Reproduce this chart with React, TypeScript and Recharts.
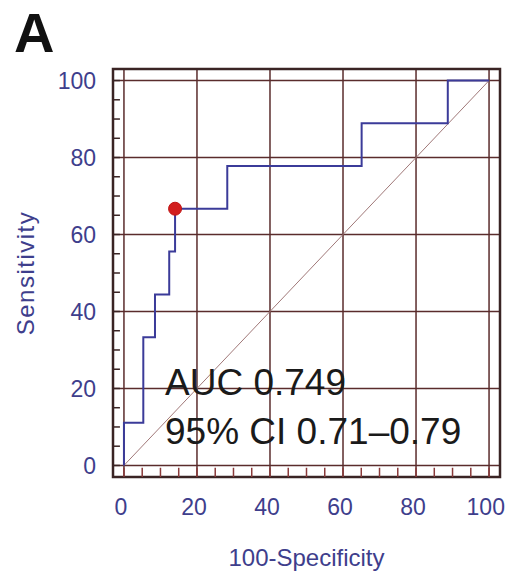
import { LineChart, Line, XAxis, YAxis, CartesianGrid, ReferenceArea, ReferenceLine, ReferenceDot, Label } from 'recharts';

// ROC curve corners (100-specificity, sensitivity), drawn with stepBefore
const fpr = [0, 5.3, 8.5, 12.4, 14.0, 28.3, 65.1, 88.7, 100];
const tpr = [0, 11.1, 33.3, 44.4, 55.6, 66.7, 77.8, 88.9, 100];

const diagX = [0, 100];
const diagY = [0, 100];

// optimal cut-off point
const cutX = 14.0;
const cutY = 66.7;

const majorTicks = [0, 20, 40, 60, 80, 100];
const minorTicks = [0, 5, 10, 15, 20, 25, 30, 35, 40, 45, 50, 55, 60, 65, 70, 75, 80, 85, 90, 95, 100];

const aucText = 'AUC 0.749';
const ciText = '95% CI 0.71–0.79';

const rocData = fpr.map((x, i) => ({ x, y: tpr[i] }));
const diagData = diagX.map((x, i) => ({ x, y: diagY[i] }));

const FONT = '"Liberation Sans", Arial, sans-serif';
const TICK_COLOR = '#3e3e8c';
const GRID_COLOR = '#5a2c2c';
const FRAME_COLOR = '#3a2424';
const LO = -3;
const HI = 103;

export default function App() {
  return (
    <div style={{ position: 'absolute', left: 0, top: 0, width: 506, height: 572, background: '#fff', fontFamily: FONT }}>
      <div style={{ position: 'absolute', left: 14, top: 0, fontSize: 56, fontWeight: 'bold', lineHeight: '66px', color: '#111' }}>A</div>
      <LineChart width={506} height={572} margin={{ top: 69, right: 6, bottom: 0, left: 0 }}>
        <CartesianGrid stroke={GRID_COLOR} strokeWidth={1.5} />
        <XAxis
          dataKey="x"
          type="number"
          domain={[LO, HI]}
          ticks={majorTicks}
          allowDataOverflow
          axisLine={false}
          tickLine={false}
          tickSize={0}
          tickMargin={22}
          height={95}
          tick={{ fill: TICK_COLOR, fontSize: 23, fontFamily: FONT, dx: -3 }}
        >
          <Label value="100-Specificity" position="insideBottom" offset={6} style={{ fill: TICK_COLOR, fontSize: 24, fontFamily: FONT }} />
        </XAxis>
        <YAxis
          type="number"
          domain={[LO, HI]}
          ticks={majorTicks}
          allowDataOverflow
          axisLine={false}
          tickLine={false}
          tickSize={0}
          tickMargin={17}
          width={113}
          tick={{ fill: TICK_COLOR, fontSize: 23, fontFamily: FONT }}
        >
          <Label value="Sensitivity" angle={-90} position="insideLeft" offset={25} style={{ fill: TICK_COLOR, fontSize: 24, fontFamily: FONT, textAnchor: 'middle', letterSpacing: 1.5 }} />
        </YAxis>
        <ReferenceArea x1={LO} x2={HI} y1={LO} y2={HI} fill="none" fillOpacity={0} stroke={FRAME_COLOR} strokeWidth={2.5} />
        {minorTicks.map((v) => (
          <ReferenceLine key={`my${v}`} segment={[{ x: LO, y: v }, { x: -1.1, y: v }]} stroke={FRAME_COLOR} strokeWidth={1.5} />
        ))}
        {minorTicks.map((v) => (
          <ReferenceLine key={`mx${v}`} segment={[{ x: v, y: LO }, { x: v, y: -0.6 }]} stroke="#8a3a3a" strokeWidth={1.5} />
        ))}
        <Line data={diagData} dataKey="y" type="linear" stroke="#a07878" strokeWidth={1} dot={false} activeDot={false} isAnimationActive={false} />
        <Line data={rocData} dataKey="y" type="stepBefore" stroke="#3b3b99" strokeWidth={2} dot={false} activeDot={false} isAnimationActive={false} />
        <ReferenceDot x={cutX} y={cutY} r={6.5} fill="#d21e1e" stroke="#c01414" strokeWidth={1} />
      </LineChart>
      <div style={{ position: 'absolute', left: 165, top: 358, fontSize: 37, lineHeight: '49px', color: '#1a1a1a', whiteSpace: 'pre' }}>
        <div>{aucText}</div>
        <div>{ciText}</div>
      </div>
    </div>
  );
}
